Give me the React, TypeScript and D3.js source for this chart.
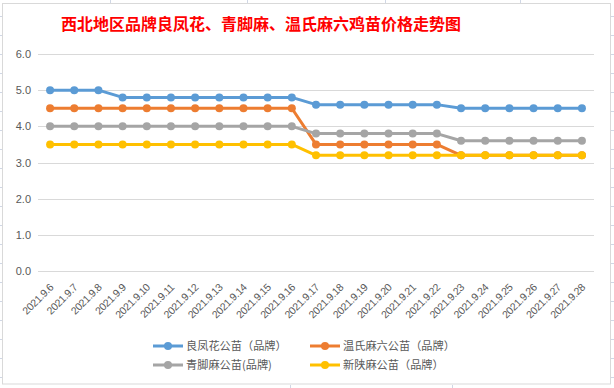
import * as React from "react";
import * as d3 from "d3";

const dates = [
  "2021.9.6", "2021.9.7", "2021.9.8", "2021.9.9", "2021.9.10", "2021.9.11",
  "2021.9.12", "2021.9.13", "2021.9.14", "2021.9.15", "2021.9.16", "2021.9.17",
  "2021.9.18", "2021.9.19", "2021.9.20", "2021.9.21", "2021.9.22", "2021.9.23",
  "2021.9.24", "2021.9.25", "2021.9.26", "2021.9.27", "2021.9.28",
];

const liangFengHua = [5.0, 5.0, 5.0, 4.8, 4.8, 4.8, 4.8, 4.8, 4.8, 4.8, 4.8, 4.6, 4.6, 4.6, 4.6, 4.6, 4.6, 4.5, 4.5, 4.5, 4.5, 4.5, 4.5];
const wenShiMa = [4.5, 4.5, 4.5, 4.5, 4.5, 4.5, 4.5, 4.5, 4.5, 4.5, 4.5, 3.5, 3.5, 3.5, 3.5, 3.5, 3.5, 3.2, 3.2, 3.2, 3.2, 3.2, 3.2];
const qingJiaoMa = [4.0, 4.0, 4.0, 4.0, 4.0, 4.0, 4.0, 4.0, 4.0, 4.0, 4.0, 3.8, 3.8, 3.8, 3.8, 3.8, 3.8, 3.6, 3.6, 3.6, 3.6, 3.6, 3.6];
const xinShanMa = [3.5, 3.5, 3.5, 3.5, 3.5, 3.5, 3.5, 3.5, 3.5, 3.5, 3.5, 3.2, 3.2, 3.2, 3.2, 3.2, 3.2, 3.2, 3.2, 3.2, 3.2, 3.2, 3.2];

const yTicks = [0, 1, 2, 3, 4, 5, 6];

const seriesNames = ["良凤花公苗（品牌）", "温氏麻六公苗（品牌）", "青脚麻公苗(品牌)", "新陕麻公苗（品牌）"];
const seriesColors = ["#5B9BD5", "#ED7D31", "#A5A5A5", "#FFC000"];
const seriesValues = [liangFengHua, wenShiMa, qingJiaoMa, xinShanMa];

const title = "西北地区品牌良凤花、青脚麻、温氏麻六鸡苗价格走势图";

const W = 614;
const H = 388;
const plot = { left: 38, right: 594, top: 54, bottom: 271 };

const axisFont = "'Liberation Sans', Arial, sans-serif";
const cjkFont = "'Noto Sans CJK SC', sans-serif";

export default function App() {
  const x = d3
    .scaleBand<string>()
    .domain(dates)
    .range([plot.left, plot.right]);
  const cx = (d: string) => (x(d) || 0) + x.bandwidth() / 2;
  const y = d3.scaleLinear().domain([0, 6]).range([plot.bottom, plot.top]);

  const line = d3
    .line<number>()
    .x((_, i) => cx(dates[i]))
    .y(v => y(v));

  // excel cell lines peeking out around the chart frame
  const rows = d3.range(16, H, 19);
  const topCols = [110, 247, 385, 520];
  const bottomCols = [290, 452];

  // legend layout: 2 columns x 2 rows
  const legendCols = [153, 310];
  const legendRows = [346, 365];

  return (
    <div style={{ position: "fixed", left: 0, top: 0 }}>
      <svg width={W} height={H} style={{ display: "block", background: "#fff" }}>
        <g stroke="#d0d7e5" strokeWidth={1}>
          {rows.map(r => (
            <g key={r}>
              <line x1={0} x2={2} y1={r + 0.5} y2={r + 0.5} />
              <line x1={611} x2={W} y1={r + 0.5} y2={r + 0.5} />
            </g>
          ))}
          {topCols.map(c => (
            <line key={"t" + c} x1={c + 0.5} x2={c + 0.5} y1={0} y2={3} />
          ))}
          {bottomCols.map(c => (
            <line key={"b" + c} x1={c + 0.5} x2={c + 0.5} y1={385} y2={H} />
          ))}
        </g>
        <rect x={2.5} y={3.5} width={608} height={380.5} fill="#fff" stroke="#d9d9d9" />

        <text
          x={261}
          y={30}
          textAnchor="middle"
          fill="#FF0000"
          fontSize={16}
          fontWeight={700}
          fontFamily={cjkFont}
        >
          {title}
        </text>

        {/* grid + y labels */}
        {yTicks.map(t => (
          <g key={t}>
            <line
              x1={plot.left}
              x2={plot.right}
              y1={Math.round(y(t)) + 0.5}
              y2={Math.round(y(t)) + 0.5}
              stroke="#d9d9d9"
            />
            <text
              x={31}
              y={y(t) + 4}
              textAnchor="end"
              fontSize={11}
              fill="#595959"
              fontFamily={axisFont}
            >
              {t.toFixed(1)}
            </text>
          </g>
        ))}

        {/* x labels */}
        {dates.map(d => (
          <text
            key={d}
            transform={`translate(${cx(d) + 4},${288}) rotate(-45)`}
            textAnchor="end"
            fontSize={10.5}
            letterSpacing={-0.3}
            fill="#595959"
            fontFamily={axisFont}
          >
            {d}
          </text>
        ))}

        {/* series */}
        {seriesValues.map((vals, si) => (
          <g key={si}>
            <path
              d={line(vals) || ""}
              fill="none"
              stroke={seriesColors[si]}
              strokeWidth={3}
              strokeLinejoin="round"
            />
            {vals.map((v, i) => (
              <circle key={i} cx={cx(dates[i])} cy={y(v)} r={4} fill={seriesColors[si]} />
            ))}
          </g>
        ))}

        {/* legend */}
        {seriesNames.map((name, i) => {
          const lx = legendCols[i % 2];
          const ly = legendRows[Math.floor(i / 2)];
          return (
            <g key={name}>
              <line x1={lx} x2={lx + 30} y1={ly} y2={ly} stroke={seriesColors[i]} strokeWidth={3} />
              <circle cx={lx + 15} cy={ly} r={4} fill={seriesColors[i]} />
              <text
                x={lx + 33}
                y={ly + 4}
                fontSize={11.2}
                fill="#595959"
                fontFamily={cjkFont}
              >
                {name}
              </text>
            </g>
          );
        })}
      </svg>
    </div>
  );
}
